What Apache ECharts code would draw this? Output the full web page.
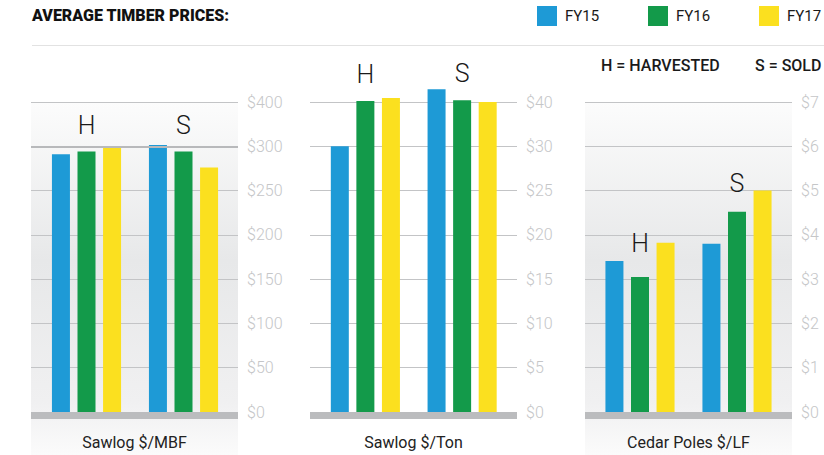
<!DOCTYPE html>
<html>
<head>
<meta charset="utf-8">
<script src="https://cdn.jsdelivr.net/npm/echarts@6/dist/echarts.min.js"></script>
<style>
  html, body { margin: 0; padding: 0; background: #fff; }
  #main { width: 824px; height: 455px; }
</style>
</head>
<body>
<div id="main"></div>
<script>
// data
const categories = ['H', 'S']
const seriesNames = ['FY15', 'FY16', 'FY17']
const panelNames = ['Sawlog $/MBF', 'Sawlog $/Ton', 'Cedar Poles $/LF']

const mbfTicks = [0, 50, 100, 150, 200, 250, 300, 400]
const mbfFY15 = [291, 303]
const mbfFY16 = [294, 294]
const mbfFY17 = [298, 276]

const tonTicks = [0, 5, 10, 15, 20, 25, 30, 40]
const tonFY15 = [30, 42.9]
const tonFY16 = [40.2, 40.4]
const tonFY17 = [40.9, 40]

const cedarTicks = [0, 1, 2, 3, 4, 5, 6, 7]
const cedarFY15 = [3.41, 3.8]
const cedarFY16 = [3.05, 4.52]
const cedarFY17 = [3.82, 5.0]

const colors = ['#1e9ad6', '#139a4a', '#fbe01f']

// tick labels are evenly spaced on the picture, so map a value onto tick index
function toAxis(v, ticks) {
  let i = 0
  while (i < ticks.length - 2 && v > ticks[i + 1]) i++
  return i + (v - ticks[i]) / (ticks[i + 1] - ticks[i])
}

const panels = [
  {ticks: mbfTicks, values: [mbfFY15, mbfFY16, mbfFY17], x: 31, bx: 38, bw: 194, shaded: true, labelDist: [14, 14], strongTick: 300},
  {ticks: tonTicks, values: [tonFY15, tonFY16, tonFY17], x: 310, bx: 317, bw: 193.5, shaded: false, labelDist: [14, 14]},
  {ticks: cedarTicks, values: [cedarFY15, cedarFY16, cedarFY17], x: 585, bx: 591.5, bw: 194, shaded: true, labelDist: [21, 16]}
]

const TOP = 102
const BOTTOM = 43
const W = 207
const legendLeft = [537, 648, 759]

const chart = echarts.init(document.getElementById('main'), null, {renderer: 'svg'})

const grid = []
const xAxis = []
const yAxis = []
const series = []
const graphic = [
  {type: 'text', left: 32, top: 7, style: {text: 'AVERAGE TIMBER PRICES:', fontSize: 16, fontWeight: 900, fontFamily: 'Roboto', fill: '#111'}},
  {type: 'line', shape: {x1: 32, y1: 45.5, x2: 824, y2: 45.5}, style: {stroke: '#e2e2e2', lineWidth: 1}},
  {type: 'text', left: 601, top: 57, style: {text: 'H = HARVESTED', fontSize: 16, fontWeight: 500, fontFamily: 'Roboto', fill: '#1a1a1a'}},
  {type: 'text', left: 755, top: 57, style: {text: 'S = SOLD', fontSize: 16, fontWeight: 500, fontFamily: 'Roboto', fill: '#1a1a1a'}}
]

panels.forEach((p, idx) => {
  const a = idx * 2
  const b = idx * 2 + 1
  grid.push({left: p.x, width: W, top: TOP, bottom: BOTTOM})
  grid.push({left: p.bx, width: p.bw, top: TOP, bottom: BOTTOM})

  xAxis.push({
    gridIndex: a, type: 'category', data: categories, offset: 3.5,
    axisLine: {show: true, onZero: false, lineStyle: {color: '#bbbcbe', width: 7, cap: 'butt'}},
    axisTick: {show: false}, axisLabel: {show: false}
  })
  xAxis.push({gridIndex: b, type: 'category', data: categories, show: false})

  yAxis.push({
    gridIndex: a, type: 'value', position: 'right', min: 0, max: p.ticks.length - 1, interval: 1,
    axisLine: {show: false}, axisTick: {show: false},
    axisLabel: {
      margin: 9, fontSize: 16, fontWeight: 300, color: '#c5c6c8',
      formatter: (v) => '$' + p.ticks[Math.round(v)]
    },
    splitLine: {lineStyle: {color: '#c3c4c6', width: 1}}
  })
  yAxis.push({gridIndex: b, type: 'value', min: 0, max: p.ticks.length - 1, show: false})

  if (p.strongTick !== undefined) {
    series.push({
      type: 'line', xAxisIndex: a, yAxisIndex: a, data: ['-', '-'], silent: true,
      markLine: {
        silent: true, symbol: 'none', label: {show: false},
        lineStyle: {color: '#b8b9bb', width: 2, type: 'solid'},
        data: [{yAxis: toAxis(p.strongTick, p.ticks)}]
      }
    })
  }

  p.values.forEach((vals, k) => {
    series.push({
      type: 'bar', name: seriesNames[k], xAxisIndex: b, yAxisIndex: b,
      barWidth: 18, barGap: '42%', clip: false,
      itemStyle: {color: colors[k]},
      data: vals.map((v, j) => {
        const item = {value: toAxis(v, p.ticks)}
        if (k === 1) {
          item.label = {
            show: true, position: 'top', distance: p.labelDist[j],
            formatter: (params) => params.name,
            fontSize: 25, fontWeight: 300, color: '#1a1a1a'
          }
        }
        return item
      })
    })
  })

  if (p.shaded) {
    graphic.push({
      type: 'rect', z: -10, silent: true,
      shape: {x: p.x, y: TOP, width: W, height: 455 - TOP},
      style: {
        fill: new echarts.graphic.LinearGradient(0, 0, 0, 1, [
          {offset: 0, color: '#fcfcfc'},
          {offset: 0.45, color: '#e7e8e9'},
          {offset: 0.85, color: '#f0f0f1'},
          {offset: 1, color: '#fbfbfb'}
        ])
      }
    })
  }
  graphic.push({
    type: 'text', x: p.x + W / 2, y: 442,
    style: {text: panelNames[idx], fontSize: 16, fontFamily: 'Roboto', fill: '#222', align: 'center', verticalAlign: 'middle'}
  })
})

// one legend per item so each swatch sits where the reference has it
const legend = seriesNames.map((name, i) => ({
  left: legendLeft[i], top: 6, padding: 0, itemWidth: 20, itemHeight: 20, icon: 'rect',
  data: [name],
  textStyle: {fontSize: 15, color: '#1a1a1a', padding: [0, 0, 0, 3]}
}))

chart.setOption({
  animation: false,
  textStyle: {fontFamily: 'Roboto'},
  legend: legend,
  grid: grid,
  xAxis: xAxis,
  yAxis: yAxis,
  series: series,
  graphic: graphic
})
</script>
</body>
</html>
